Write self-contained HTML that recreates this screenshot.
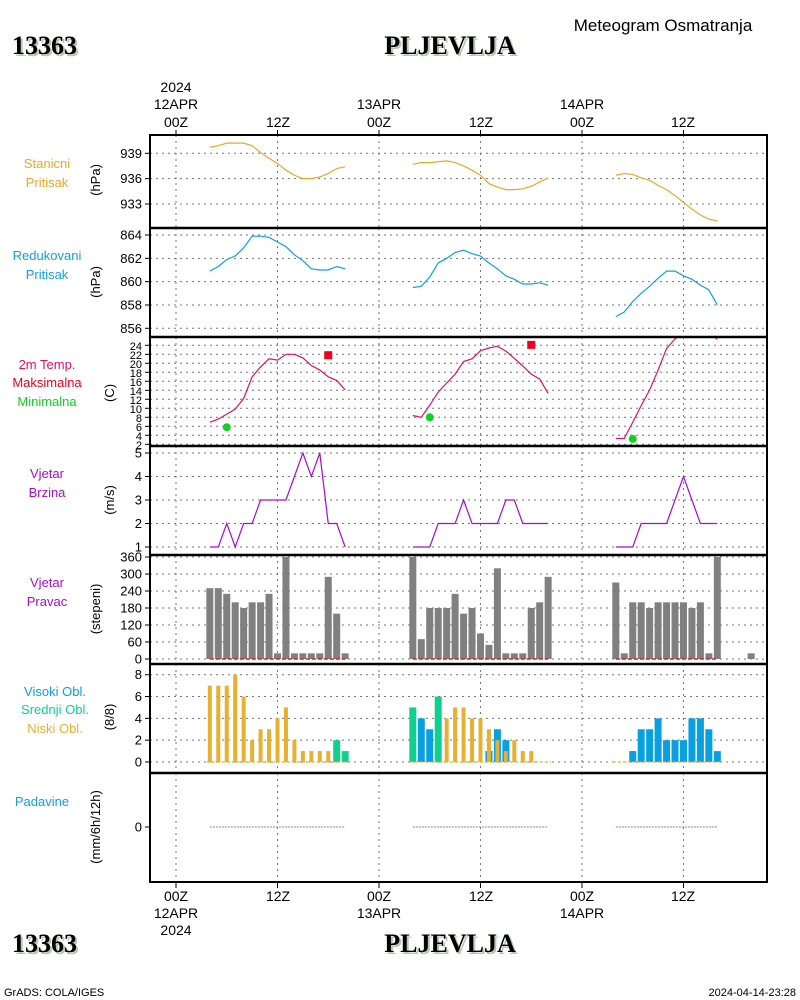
<!DOCTYPE html>
<html><head><meta charset="utf-8"><style>
body{margin:0;background:#fff}
svg{display:block;font-family:"Liberation Sans",sans-serif}
</style></head><body>
<svg id="c" width="800" height="1000" viewBox="0 0 800 1000">
<g id="g"></g>
<g font-size="13">
 <text x="47" y="168" fill="#e8a92a" text-anchor="middle">Stanicni</text>
 <text x="47" y="187" fill="#e8a92a" text-anchor="middle">Pritisak</text>
 <text x="47" y="260" fill="#12a0e0" text-anchor="middle">Redukovani</text>
 <text x="47" y="279" fill="#12a0e0" text-anchor="middle">Pritisak</text>
 <text x="47" y="369" fill="#e0106a" text-anchor="middle">2m Temp.</text>
 <text x="47" y="387" fill="#f0001e" text-anchor="middle">Maksimalna</text>
 <text x="47" y="406" fill="#10d020" text-anchor="middle">Minimalna</text>
 <text x="47" y="478" fill="#a010d0" text-anchor="middle">Vjetar</text>
 <text x="47" y="497" fill="#a010d0" text-anchor="middle">Brzina</text>
 <text x="47" y="587" fill="#a010d0" text-anchor="middle">Vjetar</text>
 <text x="47" y="606" fill="#a010d0" text-anchor="middle">Pravac</text>
 <text x="55" y="696" fill="#08a0e0" text-anchor="middle">Visoki Obl.</text>
 <text x="55" y="714" fill="#10d090" text-anchor="middle">Srednji Obl.</text>
 <text x="55" y="733" fill="#e8b030" text-anchor="middle">Niski Obl.</text>
 <text x="42" y="806" fill="#12a0e0" text-anchor="middle">Padavine</text>
</g>
<g font-size="13">
 <text transform="translate(100,180) rotate(-90)" text-anchor="middle">(hPa)</text>
 <text transform="translate(100,282) rotate(-90)" text-anchor="middle">(hPa)</text>
 <text transform="translate(114,393) rotate(-90)" text-anchor="middle">(C)</text>
 <text transform="translate(114,500) rotate(-90)" text-anchor="middle">(m/s)</text>
 <text transform="translate(100,609) rotate(-90)" text-anchor="middle">(stepeni)</text>
 <text transform="translate(114,717) rotate(-90)" text-anchor="middle">(8/8)</text>
 <text transform="translate(100,827) rotate(-90)" text-anchor="middle">(mm/6h/12h)</text>
</g>
<g font-size="14" text-anchor="middle">
 <text x="176" y="92">2024</text>
 <text x="176" y="109">12APR</text>
 <text x="176" y="127">00Z</text>
 <text x="278" y="127">12Z</text>
 <text x="379" y="109">13APR</text>
 <text x="379" y="127">00Z</text>
 <text x="481" y="127">12Z</text>
 <text x="582" y="109">14APR</text>
 <text x="582" y="127">00Z</text>
 <text x="683" y="127">12Z</text>
</g>
<g font-size="14" text-anchor="middle">
 <text x="176" y="901">00Z</text>
 <text x="176" y="918">12APR</text>
 <text x="176" y="935">2024</text>
 <text x="278" y="901">12Z</text>
 <text x="379" y="901">00Z</text>
 <text x="379" y="918">13APR</text>
 <text x="481" y="901">12Z</text>
 <text x="582" y="901">00Z</text>
 <text x="582" y="918">14APR</text>
 <text x="683" y="901">12Z</text>
</g>
<g font-family="Liberation Serif,serif" font-weight="bold" font-size="26">
 <text x="14" y="56" fill="#b8c8b0">13363</text>
 <text x="12" y="54">13363</text>
 <text x="452" y="56" fill="#b8c8b0" text-anchor="middle">PLJEVLJA</text>
 <text x="450" y="54" text-anchor="middle">PLJEVLJA</text>
 <text x="14" y="954" fill="#b8c8b0">13363</text>
 <text x="12" y="952">13363</text>
 <text x="452" y="954" fill="#b8c8b0" text-anchor="middle">PLJEVLJA</text>
 <text x="450" y="952" text-anchor="middle">PLJEVLJA</text>
</g>
<text x="663" y="31" font-size="17" text-anchor="middle">Meteogram Osmatranja</text>
<text x="4" y="996" font-size="11">GrADS: COLA/IGES</text>
<text x="796" y="996" font-size="11" text-anchor="end">2024-04-14-23:28</text>
</svg>
<script>
// hours since 00Z 12APR
const hours1=[4,5,6,7,8,9,10,11,12,13,14,15,16,17,18,19,20];
const hours2=[28,29,30,31,32,33,34,35,36,37,38,39,40,41,42,43,44];
const hours3=[52,53,54,55,56,57,58,59,60,61,62,63,64];
const stnP1=[939.7,939.9,940.2,940.2,940.2,939.9,939.1,938.4,937.8,937.0,936.4,936.0,936.0,936.2,936.6,937.2,937.4];
const stnP2=[937.7,937.9,937.9,938.0,938.1,937.9,937.5,937.0,936.4,935.4,935.0,934.7,934.7,934.8,935.1,935.6,936.1];
const stnP3=[936.4,936.6,936.5,936.1,935.8,935.2,934.7,934.0,933.2,932.4,931.7,931.2,931.0];
const redP1=[860.9,861.3,861.9,862.2,862.9,863.9,863.9,863.8,863.4,863.0,862.3,861.8,861.1,861.0,861.0,861.3,861.1];
const redP2=[859.5,859.6,860.4,861.6,862.0,862.5,862.7,862.4,862.2,861.6,861.1,860.5,860.2,859.8,859.8,859.9,859.7];
const redP3=[857.0,857.4,858.3,859.0,859.6,860.3,860.9,860.9,860.5,860.2,859.7,859.3,858.0];
const temp1=[6.9,7.6,8.7,9.8,12.2,17.0,19.2,21.0,20.7,22.0,22.0,21.2,19.5,18.5,17.0,16.2,14.1];
const temp2=[8.4,8.0,10.7,13.6,15.6,17.6,20.4,21.0,22.8,23.4,23.8,22.7,21.1,19.4,17.6,16.5,13.3];
const temp3=[3.3,3.3,6.9,10.6,14.1,18.5,23.3,25.4,27,28,28,27,25.3];
const maxT=[[18,21.8],[42,24.1]];
const minT=[[6,5.8],[30,8.0],[54,3.2]];
const wind1=[1,1,2,1,2,2,3,3,3,3,4,5,4,5,2,2,1];
const wind2=[1,1,1,2,2,2,3,2,2,2,2,3,3,2,2,2,2];
const wind3=[1,1,1,2,2,2,2,3,4,3,2,2,2];
const dir1=[250,250,230,200,180,200,200,230,20,360,20,20,20,20,290,160,20];
const dir2=[360,70,180,180,180,230,160,180,90,50,320,20,20,20,180,200,290];
const dir3=[270,20,200,200,180,200,200,200,200,180,200,20,360];
const dirExtraHour=[68], dirExtra=[20];
const low1=[7,7,7,8,6,2,3,3,4,5,2,1,1,1,1,0,0];
const mid1=[0,0,0,0,0,0,0,0,0,0,0,0,0,0,0,2,1];
const high1=[0,0,0,0,0,0,0,0,0,0,0,0,0,0,0,0,0];
const low2=[0,0,0,0,4,5,5,4,4,3,2,1,2,1,1,0,0];
const mid2=[5,0,0,6,0,0,0,0,0,0,0,0,0,0,0,0,0];
const high2=[0,4,3,0,0,0,0,0,0,1,3,2,0,0,0,0,0];
const high3=[0,0,1,3,3,4,2,2,2,4,4,3,1];
const stnTicks=[933,936,939], redTicks=[856,858,860,862,864];
const tTicks=[2,4,6,8,10,12,14,16,18,20,22,24], wTicks=[1,2,3,4,5];
const dTicks=[0,60,120,180,240,300,360], cTicks=[0,2,4,6,8], pTicks=[0];

const NS='http://www.w3.org/2000/svg', G=document.getElementById('g');
function el(tag,attrs,parent,text){const e=document.createElementNS(NS,tag);for(const k in attrs)e.setAttribute(k,attrs[k]);if(text!==undefined)e.textContent=text;(parent||G).appendChild(e);return e;}
const X=h=>176+h*8.458;
const L=150,R=767;
function lin(v0,y0,v1,y1){return v=>y0+(v-v0)*(y1-y0)/(v1-v0);}
const panels=[
 {top:135,bot:228,y:lin(933,204,939,153.3),ticks:stnTicks,name:'station-pressure'},
 {top:228,bot:337,y:lin(856,328.3,864,235),ticks:redTicks,name:'reduced-pressure'},
 {top:337,bot:446,y:lin(2,444.3,24,345.3),ticks:tTicks,name:'temperature',fs:11},
 {top:446,bot:555,y:lin(1,547,5,453),ticks:wTicks,name:'wind-speed'},
 {top:555,bot:664,y:lin(0,659,360,557),ticks:dTicks,name:'wind-direction'},
 {top:664,bot:773,y:lin(0,762,8,674.7),ticks:cTicks,name:'cloud-cover'},
 {top:773,bot:882,y:v=>827,ticks:pTicks,name:'precipitation'}];
const gridH=[0,12,24,36,48,60];
panels.forEach(p=>{
 const g=el('g',{},G);
 
 
 const cp=el('clipPath',{id:'cp-'+p.name},g);el('rect',{x:L,y:p.top,width:R-L,height:p.bot-p.top},cp);
 p.clip='url(#cp-'+p.name+')';
 gridH.forEach(h=>{el('line',{x1:X(h),x2:X(h),y1:p.top,y2:p.bot,stroke:'#777','stroke-dasharray':'2,4'},g);});
 p.ticks.forEach(t=>{
  const yy=p.y(t);
  if(p.name!=='precipitation'){el('line',{x1:L,x2:R,y1:yy,y2:yy,stroke:'#777','stroke-dasharray':'2,4'},g);}
  el('line',{x1:L-5,x2:L,y1:yy,y2:yy,stroke:'#000'},g);
  const tx=el('text',{x:142,y:yy+4.5,'text-anchor':'end','font-size':p.fs||13},g,String(t));
  
  
 });
 p.g=g;
});
function line(hs,vs,p,color,name){
 const pts=hs.map((h,i)=>X(h)+','+p.y(vs[i])).join(' ');
 const e=el('polyline',{points:pts,fill:'none',stroke:color,'stroke-width':1.2,'clip-path':p.clip},p.g);
 
 
}
line(hours1,stnP1,panels[0],'#e8a92a','station-pressure-day1');
line(hours2,stnP2,panels[0],'#e8a92a','station-pressure-day2');
line(hours3,stnP3,panels[0],'#e8a92a','station-pressure-day3');
line(hours1,redP1,panels[1],'#12a0e0','reduced-pressure-day1');
line(hours2,redP2,panels[1],'#12a0e0','reduced-pressure-day2');
line(hours3,redP3,panels[1],'#12a0e0','reduced-pressure-day3');
line(hours1,temp1,panels[2],'#e0106a','temperature-day1');
line(hours2,temp2,panels[2],'#e0106a','temperature-day2');
line(hours3,temp3,panels[2],'#e0106a','temperature-day3');
maxT.forEach(m=>{const e=el('rect',{x:X(m[0])-4,y:panels[2].y(m[1])-4,width:8,height:8,fill:'#f0001e'},panels[2].g);
 
 });
minT.forEach(m=>{const e=el('circle',{cx:X(m[0]),cy:panels[2].y(m[1]),r:4,fill:'#10d020'},panels[2].g);
 
 });
line(hours1,wind1,panels[3],'#a010d0','wind-speed-day1');
line(hours2,wind2,panels[3],'#a010d0','wind-speed-day2');
line(hours3,wind3,panels[3],'#a010d0','wind-speed-day3');
function dirBars(hs,vs){const p=panels[4];hs.forEach((h,i)=>{const y=p.y(vs[i]);
 const e=el('rect',{x:X(h)-3.5,y:y,width:7,height:p.y(0)-y,fill:'#808080'},p.g);
 
 });
 const r=el('line',{x1:X(hs[0]),x2:X(hs[hs.length-1]),y1:p.y(0),y2:p.y(0),stroke:'#e02020','stroke-width':1.5,'stroke-dasharray':'4,2'},p.g);
 
 }
dirBars(hours1,dir1);dirBars(hours2,dir2);dirBars(hours3,dir3);
(function(){const p=panels[4];dirExtraHour.forEach((h,i)=>{const y=p.y(dirExtra[i]);
 const e=el('rect',{x:X(h)-3.5,y:y,width:7,height:p.y(0)-y,fill:'#808080'},p.g);
 
 });})();
function cloudBars(hs,high,mid,low){const p=panels[5];hs.forEach((h,i)=>{
 [[high,'#08a0e0',7],[mid,'#10d090',7],[low,'#e8b030',4]].forEach(s=>{const v=s[0]?s[0][i]:0;if(!v)return;
  const y=p.y(v);const e=el('rect',{x:X(h)-s[2]/2,y:y,width:s[2],height:p.y(0)-y,fill:s[1]},p.g);
  
  });});
 el('line',{x1:X(hs[0])-3,x2:X(hs[hs.length-1])+3,y1:p.y(0),y2:p.y(0),stroke:'#e8b030','stroke-width':1.2,'stroke-dasharray':'3,2'},p.g);}
cloudBars(hours1,high1,mid1,low1);cloudBars(hours2,high2,mid2,low2);cloudBars(hours3,high3,null,null);
[hours1,hours2,hours3].forEach(hs=>{const e=el('line',{x1:X(hs[0]),x2:X(hs[hs.length-1]),y1:827,y2:827,stroke:'#888','stroke-width':1,'stroke-dasharray':'2,1'},panels[6].g);
 
 });
const fr=el('rect',{x:L,y:135,width:R-L,height:747,fill:'none',stroke:'#000','stroke-width':2});


panels.slice(1).forEach(p=>{el('line',{x1:L,x2:R,y1:p.top,y2:p.top,stroke:'#000','stroke-width':2.5});});
gridH.forEach(h=>{el('line',{x1:X(h),x2:X(h),y1:130,y2:135,stroke:'#000'});el('line',{x1:X(h),x2:X(h),y1:882,y2:888,stroke:'#000'});});
</script>
</body></html>
